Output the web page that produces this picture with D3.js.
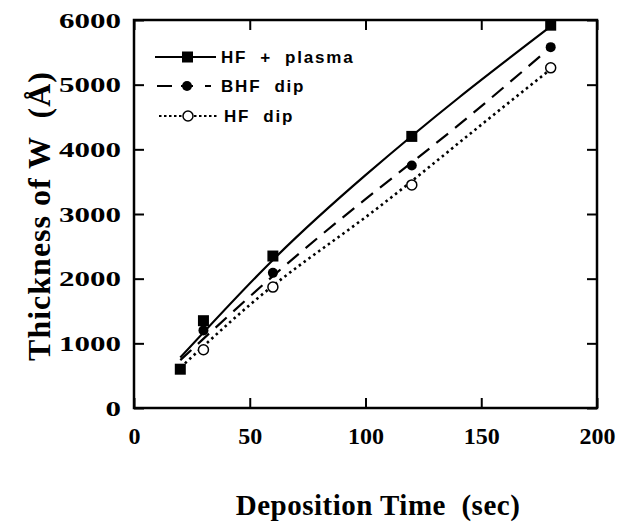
<!DOCTYPE html>
<html>
<head>
<meta charset="utf-8">
<script src="https://cdn.jsdelivr.net/npm/d3@7"></script>
<style>
  body { margin: 0; background: #fff; }
  svg { display: block; }
</style>
</head>
<body>
<div id="chart"></div>
<script>
// measured points
var plasmaTime = [20, 30, 60, 120, 180]
var plasmaVal = [600, 1350, 2350, 4200, 5920]
var bhfTime = [30, 60, 120, 180]
var bhfVal = [1200, 2090, 3750, 5580]
var hfTime = [30, 60, 120, 180]
var hfVal = [900, 1870, 3450, 5260]

// fitted curves
var plasmaFitX = [20, 60, 100, 140, 180]
var plasmaFitY = [780, 2290, 3600, 4790, 5900]
var bhfFitX = [20, 60, 100, 140, 180]
var bhfFitY = [740, 2040, 3230, 4370, 5580]
var hfFitX = [22, 60, 100, 140, 180]
var hfFitY = [690, 1890, 2950, 4090, 5240]

var xTicks = [0, 50, 100, 150, 200]
var yTicks = [0, 1000, 2000, 3000, 4000, 5000, 6000]
var legendNames = ["HF  +  plasma", "BHF  dip", "HF  dip"]

var width = 629, height = 525
var plotLeft = 134, plotRight = 597, plotTop = 20, plotBottom = 408

var svg = d3.select("#chart").append("svg")
    .attr("width", width)
    .attr("height", height)

var x = d3.scaleLinear().domain([0, 200]).range([plotLeft, plotRight])
var y = d3.scaleLinear().domain([0, 6000]).range([plotBottom, plotTop])

var serif = "'Liberation Serif', 'Times New Roman', serif"
var sans = "'Liberation Sans', Arial, sans-serif"

// axes, ticks point inward
var xAxis = svg.append("g")
    .attr("transform", "translate(0," + plotBottom + ")")
    .call(d3.axisBottom(x).tickValues(xTicks).tickSize(-10).tickPadding(19).tickFormat(d3.format("d")))
var xTop = svg.append("g")
    .attr("transform", "translate(0," + plotTop + ")")
    .call(d3.axisTop(x).tickValues(xTicks).tickSize(-10).tickFormat(""))
var yAxis = svg.append("g")
    .attr("transform", "translate(" + plotLeft + ",0)")
    .call(d3.axisLeft(y).tickValues(yTicks).tickSize(-10).tickPadding(13).tickFormat(d3.format("d")))
var yRight = svg.append("g")
    .attr("transform", "translate(" + plotRight + ",0)")
    .call(d3.axisRight(y).tickValues(yTicks).tickSize(-10).tickFormat(""))

svg.selectAll(".domain").remove()
svg.selectAll(".tick line").attr("stroke", "#000").attr("stroke-width", 2)

xAxis.selectAll("text")
    .attr("font-family", serif).attr("font-weight", "bold")
    .attr("font-size", "24px").attr("fill", "#000")
// y labels in the figure are drawn wide
yAxis.selectAll("text")
    .attr("font-family", serif).attr("font-weight", "bold")
    .attr("font-size", "22px").attr("fill", "#000")
    .attr("textLength", function(d) { return String(d).length * 15.5 })
    .attr("lengthAdjust", "spacingAndGlyphs")

// frame
svg.append("rect")
    .attr("x", plotLeft).attr("y", plotTop)
    .attr("width", plotRight - plotLeft).attr("height", plotBottom - plotTop)
    .attr("fill", "none").attr("stroke", "#000").attr("stroke-width", 2.5)

// axis titles
svg.append("text")
    .attr("x", 378).attr("y", 515)
    .attr("text-anchor", "middle")
    .attr("font-family", serif).attr("font-weight", "bold")
    .attr("font-size", "29px").attr("letter-spacing", "0.5px")
    .style("white-space", "pre")
    .text("Deposition Time  (sec)")

svg.append("text")
    .attr("transform", "translate(50,216) rotate(-90)")
    .attr("text-anchor", "middle")
    .attr("font-family", serif).attr("font-weight", "bold")
    .attr("font-size", "32px").attr("letter-spacing", "1px")
    .style("white-space", "pre")
    .text("Thickness of W  (Å)")

// curves
function pairs(xs, ys) { return xs.map(function(d, i) { return [d, ys[i]] }) }
var line = d3.line()
    .x(function(d) { return x(d[0]) })
    .y(function(d) { return y(d[1]) })
    .curve(d3.curveNatural)

svg.append("path").datum(pairs(plasmaFitX, plasmaFitY))
    .attr("d", line).attr("fill", "none").attr("stroke", "#000").attr("stroke-width", 2.2)
svg.append("path").datum(pairs(bhfFitX, bhfFitY))
    .attr("d", line).attr("fill", "none").attr("stroke", "#000").attr("stroke-width", 2.2)
    .attr("stroke-dasharray", "15,9")
svg.append("path").datum(pairs(hfFitX, hfFitY))
    .attr("d", line).attr("fill", "none").attr("stroke", "#000").attr("stroke-width", 2.6)
    .attr("stroke-dasharray", "2.5,3.5")

// markers
svg.selectAll(".sq").data(pairs(plasmaTime, plasmaVal)).enter()
  .append("rect")
    .attr("class", "sq")
    .attr("x", function(d) { return x(d[0]) - 5.5 })
    .attr("y", function(d) { return y(d[1]) - 5.5 })
    .attr("width", 11).attr("height", 11)
    .attr("fill", "#000")
svg.selectAll(".dot").data(pairs(bhfTime, bhfVal)).enter()
  .append("circle")
    .attr("class", "dot")
    .attr("cx", function(d) { return x(d[0]) })
    .attr("cy", function(d) { return y(d[1]) })
    .attr("r", 5).attr("fill", "#000")
svg.selectAll(".ring").data(pairs(hfTime, hfVal)).enter()
  .append("circle")
    .attr("class", "ring")
    .attr("cx", function(d) { return x(d[0]) })
    .attr("cy", function(d) { return y(d[1]) })
    .attr("r", 5).attr("fill", "#fff").attr("stroke", "#000").attr("stroke-width", 1.5)

// legend
var legendY = [57, 86, 116]
var lg = svg.append("g")
lg.append("line").attr("x1", 155).attr("x2", 216).attr("y1", legendY[0]).attr("y2", legendY[0])
    .attr("stroke", "#000").attr("stroke-width", 2)
lg.append("rect").attr("x", 182).attr("y", legendY[0] - 5.5).attr("width", 11).attr("height", 11).attr("fill", "#000")

lg.append("line").attr("x1", 157).attr("x2", 217).attr("y1", legendY[1]).attr("y2", legendY[1])
    .attr("stroke", "#000").attr("stroke-width", 2).attr("stroke-dasharray", "15,9,12,12,6,20")
lg.append("circle").attr("cx", 187).attr("cy", legendY[1]).attr("r", 5).attr("fill", "#000")

lg.append("line").attr("x1", 159).attr("x2", 218).attr("y1", legendY[2]).attr("y2", legendY[2])
    .attr("stroke", "#000").attr("stroke-width", 2).attr("stroke-dasharray", "2.5,2.5")
lg.append("circle").attr("cx", 188).attr("cy", legendY[2]).attr("r", 5)
    .attr("fill", "#fff").attr("stroke", "#000").attr("stroke-width", 1.5)

lg.selectAll(".lab").data(legendNames).enter()
  .append("text")
    .attr("class", "lab")
    .attr("x", function(d, i) { return i == 2 ? 224 : 221 })
    .attr("y", function(d, i) { return legendY[i] + 6 })
    .attr("font-family", sans).attr("font-weight", "bold")
    .attr("font-size", "17px").attr("letter-spacing", "1.8px")
    .style("white-space", "pre")
    .text(function(d) { return d })
</script>
</body>
</html>
